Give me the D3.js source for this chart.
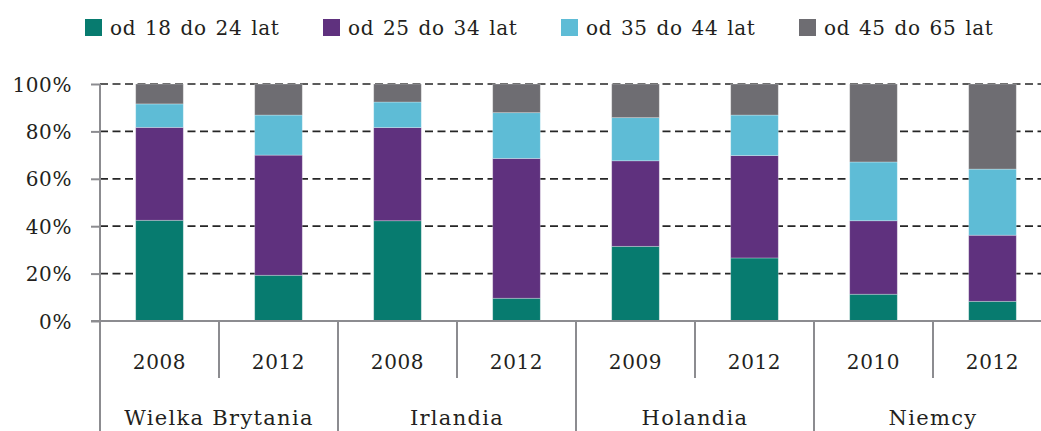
<!DOCTYPE html>
<html><head><meta charset="utf-8">
<script src="https://cdn.jsdelivr.net/npm/d3@7"></script>
<style>
html,body{margin:0;padding:0;background:#fff;}
svg{display:block;font-family:"DejaVu Serif",serif;}
</style></head>
<body>
<svg id="chart" width="1041" height="431"></svg>
<script>
const countries = ["Wielka Brytania","Irlandia","Holandia","Niemcy"];
const years = ["2008","2012","2008","2012","2009","2012","2010","2012"];
const seriesNames = ["od 18 do 24 lat","od 25 do 34 lat","od 35 do 44 lat","od 45 do 65 lat"];
const colors = ["#077b6f","#5f317e","#5ebcd6","#6e6d72"];
const age18_24 = [42.5,19.3,42.3, 9.6,31.5,26.6,11.3, 8.3];
const age25_34 = [39.2,50.7,39.3,59.0,36.1,43.2,31.0,27.9];
const age35_44 = [ 9.9,16.9,10.8,19.3,18.2,17.1,24.8,27.9];
const age45_65 = [ 8.4,13.1, 7.6,12.1,14.2,13.1,32.9,35.9];
const yTicks = [0,20,40,60,80,100];

const svg = d3.select("#chart");
const keys = years.map((y,i)=>i);
const x = d3.scaleBand().domain(keys).range([100,1052]).paddingInner(0.6).paddingOuter(0.3);
const y = d3.scaleLinear().domain([0,100]).range([321,84]);
const step = x.step();

const rows = keys.map(i=>({i, s0:age18_24[i], s1:age25_34[i], s2:age35_44[i], s3:age45_65[i]}));
const stack = d3.stack().keys(["s0","s1","s2","s3"])(rows);

const textColor = "#231f20", axisColor = "#8c8c90";

// gridlines
svg.append("g").selectAll("line").data(yTicks.filter(d=>d>0)).join("line")
  .attr("x1",100).attr("x2",1041).attr("y1",d=>y(d)).attr("y2",d=>y(d))
  .attr("stroke","#262626").attr("stroke-width",1.7).attr("stroke-dasharray","8,4.5");

// bars
svg.append("g").selectAll("g").data(stack).join("g").attr("fill",(d,i)=>colors[i])
  .selectAll("rect").data(d=>d).join("rect")
  .attr("x",d=>x(d.data.i)).attr("width",x.bandwidth())
  .attr("y",d=>y(d[1])).attr("height",d=>y(d[0])-y(d[1]))
  .attr("stroke","rgba(255,255,255,0.35)").attr("stroke-width",0.8);

// y axis
const yAxis = d3.axisLeft(y).tickValues(yTicks).tickFormat(d=>d+"%").tickSize(9).tickPadding(19);
const gy = svg.append("g").attr("transform","translate(100,0)").call(yAxis);
gy.select(".domain").remove();
gy.selectAll("line").attr("stroke",axisColor).attr("stroke-width",2);
gy.selectAll("text").attr("fill",textColor).style("font-size","20px").style("letter-spacing","0.6px")
  .style("font-family","DejaVu Serif, serif").attr("dy","0.35em");
svg.append("line").attr("x1",100).attr("x2",100).attr("y1",84).attr("y2",431)
  .attr("stroke",axisColor).attr("stroke-width",2);

// x axis baseline
svg.append("line").attr("x1",91).attr("x2",1041).attr("y1",y(0)).attr("y2",y(0))
  .attr("stroke",axisColor).attr("stroke-width",2);

// separators
const bounds = d3.range(1,9).map(k=>100+k*step);
svg.append("g").selectAll("line").data(bounds).join("line")
  .attr("x1",d=>d).attr("x2",d=>d).attr("y1",y(0))
  .attr("y2",(d,k)=>((k+1)%2===0)?431:378)
  .attr("stroke",axisColor).attr("stroke-width",2);

// year labels
svg.append("g").selectAll("text").data(keys).join("text")
  .attr("x",i=>x(i)+x.bandwidth()/2).attr("y",369).attr("text-anchor","middle")
  .attr("fill",textColor).style("font-size","20px").style("letter-spacing","0.6px")
  .text(i=>years[i]);

// country labels
svg.append("g").selectAll("text").data(countries).join("text")
  .attr("x",(d,k)=>100+step*(2*k+1)).attr("y",425).attr("text-anchor","middle")
  .attr("fill",textColor).style("font-size","21px").style("letter-spacing","1.3px")
  .text(d=>d);

// legend
const lg = svg.append("g").selectAll("g").data(seriesNames).join("g")
  .attr("transform",(d,i)=>`translate(${85+i*2*step},0)`);
lg.append("rect").attr("x",0).attr("y",19).attr("width",17).attr("height",17).attr("fill",(d,i)=>colors[i]);
lg.append("text").attr("x",25).attr("y",35).attr("fill",textColor)
  .style("font-size","20px").style("letter-spacing","0.6px").style("word-spacing","2px").text(d=>d);
</script>
</body></html>
